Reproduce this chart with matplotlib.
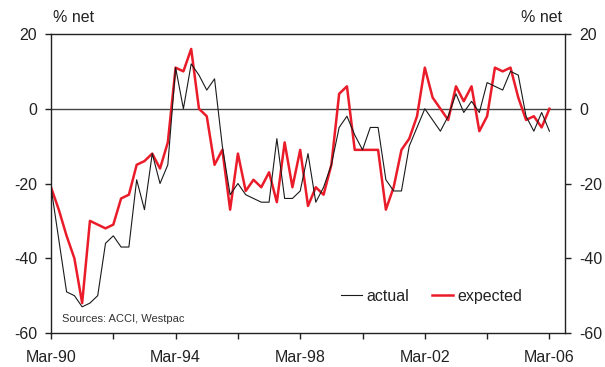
import matplotlib
matplotlib.use("Agg")
import matplotlib.pyplot as plt
import numpy as np

plt.rcParams["font.family"] = ["Liberation Sans", "DejaVu Sans"]
plt.rcParams["axes.unicode_minus"] = False

# quarterly, Mar-90 .. Mar-06
actual = [-21, -35, -49, -50, -53, -52, -50, -36, -34, -37, -37, -19, -27, -12, -20, -15,
          11, 0, 12, 9, 5, 8, -10, -23, -20, -23, -24, -25, -25, -8, -24, -24,
          -22, -12, -25, -21, -15, -5, -2, -7, -11, -5, -5, -19, -22, -22, -10, -5,
          0, -3, -6, -2, 4, -1, 2, -1, 7, 6, 5, 10, 9, -2, -6, -1, -6]
expected = [-21, -27, -34, -40, -52, -30, -31, -32, -31, -24, -23, -15, -14, -12, -16, -9,
            11, 10, 16, 0, -2, -15, -11, -27, -12, -22, -19, -21, -17, -25, -9, -21,
            -11, -26, -21, -23, -15, 4, 6, -11, -11, -11, -11, -27, -21, -11, -8, -2,
            11, 3, 0, -3, 6, 2, 6, -6, -2, 11, 10, 11, 3, -3, -2, -5, 0]
tick_labels = ["Mar-90", "", "Mar-94", "", "Mar-98", "", "Mar-02", "", "Mar-06"]
y_ticks = [20, 0, -20, -40, -60]

x = np.arange(len(actual))

fig = plt.figure(figsize=(6.05, 3.67), dpi=100)
fig.patch.set_facecolor("white")
ax = fig.add_axes([51 / 605, 1 - 333 / 367, 514 / 605, 299 / 367])

ax.axhline(0, color="#444444", linewidth=1.0, zorder=1)
ax.plot(x, actual, color="#1a1a1a", linewidth=0.8, label="actual", zorder=3)
ax.plot(x, expected, color="#ea1c2a", linewidth=1.8, label="expected", zorder=2)

ax.set_xlim(0, 66)
ax.set_ylim(-60, 20)
ax.set_yticks(y_ticks)
ax.set_xticks(np.arange(0, 65, 8))
ax.set_xticklabels(tick_labels)

for sp in ax.spines.values():
    sp.set_color("#222222")
    sp.set_linewidth(1.0)

ax.tick_params(axis="y", direction="out", length=4, width=1, color="#222222",
               left=True, right=True, labelleft=True, labelright=True,
               labelsize=11.5, labelcolor="#222222", pad=6)
ax.tick_params(axis="x", direction="out", length=4, width=1, color="#222222",
               labelsize=11.5, labelcolor="#222222", pad=8)

fig.text(53 / 605, 1 - 18 / 367, "% net", fontsize=11.5, color="#222222",
         ha="left", va="center")
fig.text(562 / 605, 1 - 18 / 367, "% net", fontsize=11.5, color="#222222",
         ha="right", va="center")

fig.text(62 / 605, 1 - 319 / 367, "Sources: ACCI, Westpac", fontsize=8,
         color="#333333", ha="left", va="center")

ax.legend(loc="lower right", bbox_to_anchor=(0.945, 0.05), frameon=False,
          ncol=2, fontsize=11.5, handlelength=1.3, handletextpad=0.3,
          columnspacing=1.4, labelcolor="#222222")

fig.savefig("out.png", dpi=100, facecolor="white")
